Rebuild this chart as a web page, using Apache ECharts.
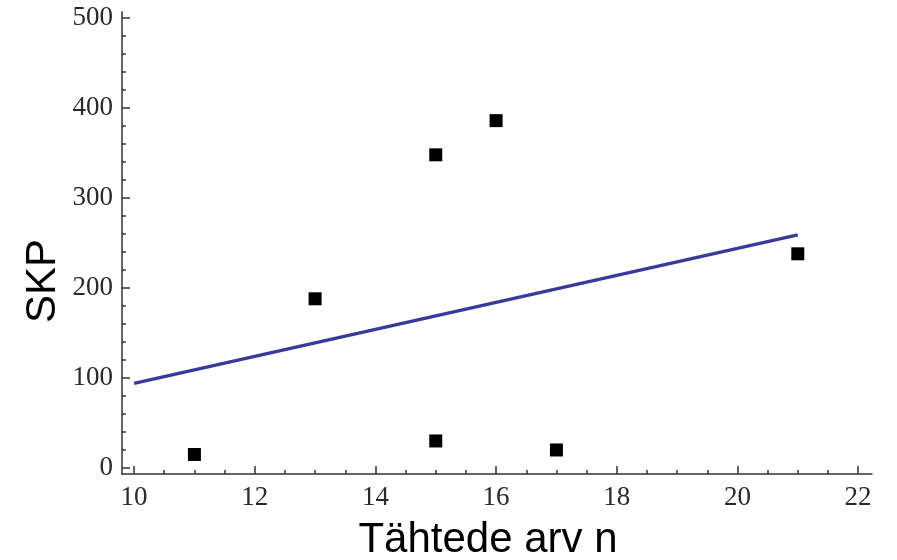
<!DOCTYPE html>
<html>
<head>
<meta charset="utf-8">
<script src="https://cdn.jsdelivr.net/npm/echarts@6/dist/echarts.min.js"></script>
<style>
  html, body { margin: 0; padding: 0; background: #fff; }
  #chart { width: 897px; height: 560px; }
</style>
</head>
<body>
<div id="chart"></div>
<script>
// measured points (stars n, SKP)
const starCounts = [11, 13, 15, 16, 15, 17, 21];
const skpValues = [15, 188, 348, 386, 30, 20, 238];
// fitted line ends
const lineX = [10, 21];
const lineY = [94, 259];
// tick labels
const xTicks = [10, 12, 14, 16, 18, 20, 22];
const xMinorTicks = [10.5, 11, 11.5, 12.5, 13, 13.5, 14.5, 15, 15.5, 16.5, 17, 17.5, 18.5, 19, 19.5, 20.5, 21, 21.5];
const yTicks = [0, 100, 200, 300, 400, 500];
const yMinorTicks = [20, 40, 60, 80, 120, 140, 160, 180, 220, 240, 260, 280, 320, 340, 360, 380, 420, 440, 460, 480];

const chart = echarts.init(document.getElementById('chart'), null, { renderer: 'canvas' });

const labelFont = { fontFamily: 'Liberation Serif', fontSize: 27, color: '#2a2a2a' };

const option = {
  animation: false,
  grid: { left: 122, right: 25, top: 12, bottom: 86 },
  xAxis: [
    {
      type: 'value', min: 9.8, max: 22.23, position: 'bottom',
      axisLine: { onZero: false, lineStyle: { color: '#333', width: 1.5 } },
      axisTick: { inside: true, length: 8, customValues: xTicks, lineStyle: { color: '#333', width: 1.5 } },
      axisLabel: Object.assign({ customValues: xTicks, margin: 10 }, labelFont),
      splitLine: { show: false }
    },
    {
      type: 'value', min: 9.8, max: 22.23, position: 'bottom',
      axisLine: { show: false, onZero: false },
      axisTick: { inside: true, length: 4, customValues: xMinorTicks, lineStyle: { color: '#333', width: 1.5 } },
      axisLabel: { show: false },
      splitLine: { show: false }
    }
  ],
  yAxis: [
    {
      type: 'value', min: -6.7, max: 506.7, position: 'left',
      axisLine: { show: true, onZero: false, lineStyle: { color: '#666', width: 2 } },
      axisTick: { show: true, inside: true, length: 8, customValues: yTicks, lineStyle: { color: '#333', width: 1.5 } },
      axisLabel: Object.assign({ customValues: yTicks, margin: 9 }, labelFont),
      splitLine: { show: false }
    },
    {
      type: 'value', min: -6.7, max: 506.7, position: 'left',
      axisLine: { show: false, onZero: false },
      axisTick: { show: true, inside: true, length: 4, customValues: yMinorTicks, lineStyle: { color: '#333', width: 1.5 } },
      axisLabel: { show: false },
      splitLine: { show: false }
    }
  ],
  graphic: [
    {
      type: 'text', x: 488, y: 540,
      style: { text: 'Tähtede arv n', font: '42px "Liberation Sans"', fill: '#000', align: 'center', verticalAlign: 'middle' }
    },
    {
      type: 'text', x: 43, y: 281, rotation: Math.PI / 2,
      style: { text: 'SKP', font: '42px "Liberation Sans"', fill: '#000', align: 'center', verticalAlign: 'middle' }
    }
  ],
  series: [
    {
      type: 'line',
      data: lineX.map((x, i) => [x, lineY[i]]),
      showSymbol: false,
      lineStyle: { color: '#3a3a9c', width: 3.5 },
      z: 2
    },
    {
      type: 'scatter',
      data: starCounts.map((x, i) => [x, skpValues[i]]),
      symbol: 'rect',
      symbolSize: 13,
      itemStyle: { color: '#000', opacity: 1 },
      z: 3
    }
  ]
};

chart.setOption(option);
</script>
</body>
</html>
